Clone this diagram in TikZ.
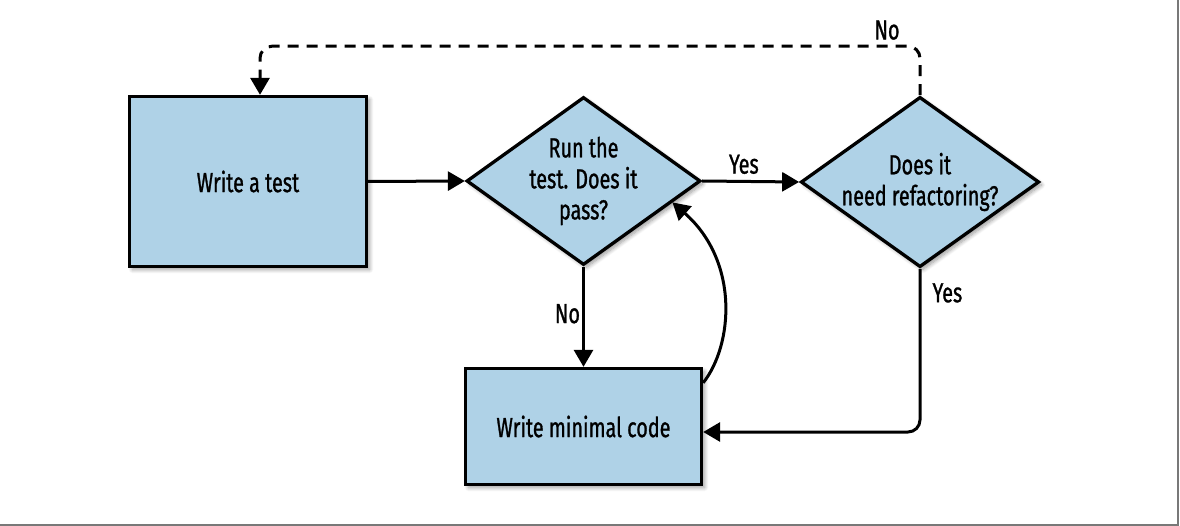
\documentclass[tikz,border=0pt]{standalone}
\usepackage{fontspec}
\setmainfont[FakeStretch=0.72,FakeBold=1]{Fira Sans}
\usetikzlibrary{shapes.geometric,arrows.meta,shadows.blur,calc}
\definecolor{boxblue}{RGB}{175,210,231}
\definecolor{framegray}{RGB}{120,120,120}
\begin{document}
\begin{tikzpicture}[x=1pt,y=-1pt,
  every node/.style={font=\fontsize{27.5}{31}\selectfont},
  shad/.style={blur shadow={shadow xshift=3pt,shadow yshift=-3pt,shadow blur radius=4pt,shadow blur steps=8,shadow opacity=40}},
  procbox/.style={draw, line width=3.3pt, fill=boxblue, rectangle, inner sep=0pt, align=center, shad},
  decbox/.style={draw, line width=3.3pt, fill=boxblue, diamond, aspect=1.4, inner sep=0pt, minimum width=234pt, minimum height=168pt, align=center, shad},
  conn/.style={line width=3pt, -{Triangle[length=17pt,width=19pt]}},
  lbl/.style={inner sep=2pt}
]
\useasboundingbox (0,0) rectangle (1180,526);
\draw[framegray, line width=2pt] (1178,0) -- (1178,524.5) -- (0,524.5);

\node[procbox, minimum width=237pt, minimum height=170pt] (w) at (248,181.5) {Write a test};
\node[decbox] (d1) at (583.5,181) {Run the\\test. Does it\\pass?};
\node[decbox] (d2) at (920,182) {Does it\\need refactoring?};
\node[procbox, minimum width=236pt, minimum height=116pt] (m) at (583.5,426.5) {Write minimal code};

\draw[conn] (w.east) -- (d1.west);
\draw[conn] (d1.east) -- node[lbl, above, pos=0.43, yshift=4pt] {Yes} (d2.west);
\draw[conn] (d1.south) -- node[lbl, left, yshift=3pt] {No} (m.north);
\draw[conn, rounded corners=12pt] (d2.south) -- node[lbl, right, pos=0.16, xshift=9pt, yshift=2pt] {Yes} ([yshift=-5.5pt]m.east -| d2.south) -- ([yshift=-5.5pt]m.east);
\draw[conn] ([yshift=-16pt]m.north east) .. controls +(30,-38) and +(67,59) .. ($(d1.east)!0.25!(d1.south)$);
\draw[conn, dash pattern=on 11pt off 8pt, rounded corners=12pt] (d2.north) -- ([yshift=49pt]d2.north) node[lbl, above, xshift=-33pt, yshift=3pt] {No} -| ([xshift=12pt]w.north);
\end{tikzpicture}
\end{document}
